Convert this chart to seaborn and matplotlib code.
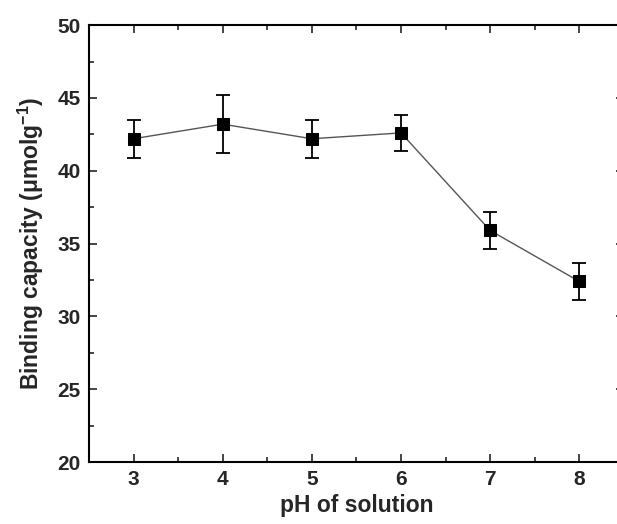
import matplotlib
matplotlib.use("Agg")
import matplotlib.pyplot as plt
import seaborn as sns
import pandas as pd
from matplotlib.ticker import MultipleLocator

ph = [3, 4, 5, 6, 7, 8]
capacity = [42.2, 43.2, 42.2, 42.6, 35.9, 32.4]
err = [1.3, 2.0, 1.3, 1.25, 1.3, 1.25]

sns.set_theme(style="ticks")
plt.rcParams['font.family'] = ['Liberation Sans', 'DejaVu Sans']
plt.rcParams['font.weight'] = 'bold'
plt.rcParams['mathtext.fontset'] = 'custom'
plt.rcParams['mathtext.rm'] = 'Liberation Sans:bold'
plt.rcParams['mathtext.bf'] = 'Liberation Sans:bold'
plt.rcParams['mathtext.default'] = 'bf'

df = pd.DataFrame({"ph": ph, "cap": capacity, "err": err})

fig = plt.figure(figsize=(6.17, 5.24), dpi=100)
ax = fig.add_axes([0.1442, 0.1183, 0.867, 0.8337])

ax.errorbar(df["ph"], df["cap"], yerr=df["err"], fmt="none", ecolor="black",
            elinewidth=1.3, capsize=5, capthick=1.3, zorder=2)
sns.lineplot(data=df, x="ph", y="cap", ax=ax, color="#555555", linewidth=1.0,
             marker="s", markersize=9, markerfacecolor="black",
             markeredgecolor="black", zorder=3)

ax.set_xlim(2.5, 8.5)
ax.set_ylim(20, 50)
ax.xaxis.set_major_locator(MultipleLocator(1))
ax.xaxis.set_minor_locator(MultipleLocator(0.5))
ax.yaxis.set_major_locator(MultipleLocator(5))
ax.yaxis.set_minor_locator(MultipleLocator(2.5))
ax.tick_params(which="both", direction="in", top=True, right=True, width=1.2)
ax.tick_params(which="major", length=6, labelsize=15, pad=6)
ax.tick_params(which="minor", length=3.5)
for lab in ax.get_xticklabels() + ax.get_yticklabels():
    lab.set_fontweight("bold")
for s in ax.spines.values():
    s.set_linewidth(1.5)
    s.set_color("black")

ax.set_xlabel("pH of solution", fontsize=16.5, fontweight="bold", labelpad=3)
ax.set_ylabel(r"Binding capacity (μmolg$^{-1}$)", fontsize=16.5, fontweight="bold", labelpad=8)

fig.savefig("out.png", dpi=100)
